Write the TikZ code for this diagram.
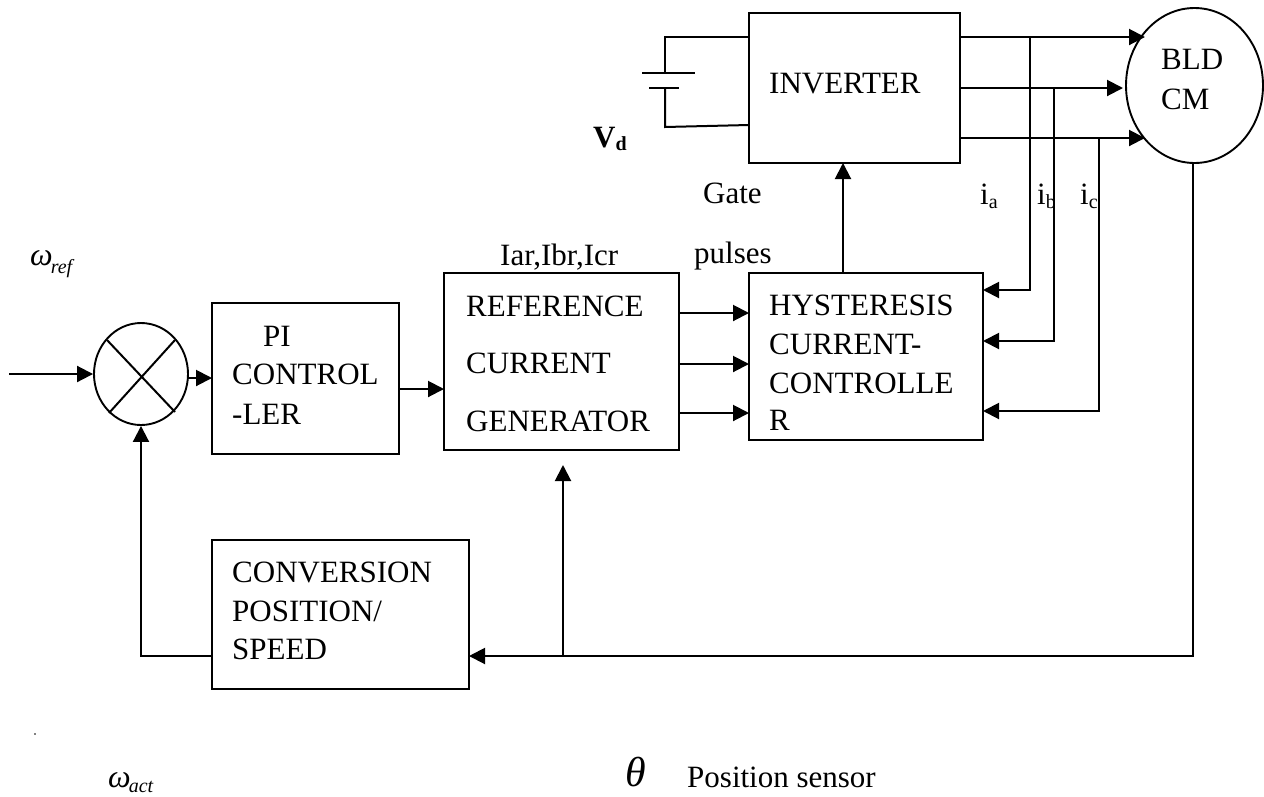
\documentclass[tikz,border=0pt]{standalone}
\usepackage{fontspec}
\usepackage{graphicx}
\setmainfont{Liberation Serif}
\usetikzlibrary{arrows.meta,shapes.geometric}
\newcommand{\lowsub}[2]{\raisebox{#1}{\fontsize{20}{20}\selectfont #2}}
\tikzset{
  blk/.style={draw,line width=2.4pt,rectangle,inner sep=0pt},
  oval/.style={draw,line width=1.9pt,ellipse,inner sep=0pt},
  wire/.style={line width=2pt},
  arr/.style={line width=2pt,-{Triangle[length=16pt,width=16pt]}},
  txt/.style={anchor=base west,inner sep=0pt,font=\fontsize{31}{34}\selectfont},
  omg/.style={anchor=base west,inner sep=0pt,font=\fontsize{32}{36}\selectfont\itshape},
}
\begin{document}
\begin{tikzpicture}[x=1pt,y=-1pt]
\useasboundingbox (0,0) rectangle (1264,796);
% blocks
\node[blk,minimum width=211pt,minimum height=150pt] (inv) at (854.5,88) {};
\node[oval,minimum width=137pt,minimum height=155pt] (mot) at (1194.5,85.5) {};
\node[oval,minimum width=94pt,minimum height=102pt] (sum) at (141,374) {};
\node[blk,minimum width=187pt,minimum height=151pt] (pi) at (305.5,378.5) {};
\node[blk,minimum width=235pt,minimum height=177pt] (ref) at (561.5,361.5) {};
\node[blk,minimum width=234pt,minimum height=167pt] (hys) at (866,356.5) {};
\node[blk,minimum width=257pt,minimum height=149pt] (conv) at (340.5,614.5) {};
% free coordinates
\coordinate (in) at (9,374);
\coordinate (ma) at (1145,37);
\coordinate (mb) at (1123,88);
\coordinate (mc) at (1145,138);
\coordinate (ta) at (1030,37);
\coordinate (tb) at (1054,88);
\coordinate (tc) at (1099,138);
\coordinate (ha) at (983,290);
\coordinate (hb) at (983,341);
\coordinate (hc) at (983,411);
\coordinate (fb1) at (1193,656);
\coordinate (fb2) at (469,656);
\coordinate (br) at (563,655);
\coordinate (brt) at (563,465);
\coordinate (c1) at (212,656);
\coordinate (c2) at (141,656);
\coordinate (bat1) at (665,37);
\coordinate (bat2) at (665,127);
\coordinate (p1) at (665,73);
\coordinate (p2) at (665,88);
\coordinate (invA) at (749,37);
\coordinate (invB) at (749,125);
% cross in summing junction
\draw[wire] (107,340) coordinate (x1) -- (175,412) coordinate (x2);
\draw[wire] (175,340) coordinate (x3) -- (109,413) coordinate (x4);
% forward path
\draw[arr] (in) -- (sum.west);
\draw[arr] (188,378) coordinate (s1) -- (212,378) coordinate (s2);
\draw[arr] (399,389) coordinate (s3) -- (444,389) coordinate (s4);
\draw[arr] (679,313) coordinate (r1) -- (749,313) coordinate (h1);
\draw[arr] (679,364) coordinate (r2) -- (749,364) coordinate (h2);
\draw[arr] (679,413) coordinate (r3) -- (749,413) coordinate (h3);
\draw[arr] (843,273) coordinate (g1) -- (843,163) coordinate (g2);
% inverter to motor
\draw[arr] (960,37) coordinate (o1) -- (ma);
\draw[arr] (960,88) coordinate (o2) -- (mb);
\draw[arr] (960,138) coordinate (o3) -- (mc);
% current feedback
\draw[arr] (ta) -- (1030,290) -- (ha);
\draw[arr] (tb) -- (1054,341) -- (hb);
\draw[arr] (tc) -- (1099,411) -- (hc);
% position feedback
\draw[arr] (mot.south -| fb1) -- (fb1) -- (fb2);
\draw[arr] (br) -- (brt);
\draw[arr] (c1) -- (c2) -- (sum.south);
% battery
\draw[wire] (invA) -- (bat1) -- (p1);
\draw[wire] (p2) -- (bat2) -- (invB);
\draw[wire] (642,73) coordinate (b1) -- (695,73) coordinate (b2);
\draw[wire] (649,88) coordinate (b3) -- (679,88) coordinate (b4);
% texts
\node[txt] (tinv) at (769,93) {INVERTER};
\node[txt] (tbld) at (1161,69) {BLD};
\node[txt] (tcm) at (1161,109) {CM};
\node[txt] (tpi) at (263,346) {PI};
\node[txt] (tcon) at (232,384) {CONTROL};
\node[txt] (tler) at (232,424) {-LER};
\node[txt] (tr1) at (466,316) {REFERENCE};
\node[txt] (tr2) at (466,373) {CURRENT};
\node[txt] (tr3) at (466,431) {GENERATOR};
\node[txt] (th1) at (769,315) {HYSTERESIS};
\node[txt] (th2) at (769,354) {CURRENT-};
\node[txt] (th3) at (769,393) {CONTROLLE};
\node[txt] (th4) at (769,430) {R};
\node[txt] (tc1) at (232,582) {CONVERSION};
\node[txt] (tc2) at (232,621) {POSITION/};
\node[txt] (tc3) at (232,659) {SPEED};
\node[txt] (tgate) at (703,203) {Gate};
\node[txt] (tpul) at (694,263) {pulses};
\node[txt] (tiar) at (500,265) {Iar,Ibr,Icr};
\node[txt] (tia) at (980,204) {i\lowsub{-4pt}{a}};
\node[txt] (tib) at (1037,204) {i\lowsub{-4pt}{b}};
\node[txt] (tic) at (1080,204) {i\lowsub{-4pt}{c}};
\node[txt] (tvd) at (593,147) {\textbf{V\lowsub{-3pt}{d}}};
\node[omg] (twr) at (30,265) {ω\kern-2pt\lowsub{-8pt}{ref}};
\node[omg] (twa) at (108,787) {ω\kern-2pt\lowsub{-5pt}{act}};
\node[txt,font=\fontsize{42}{44}\selectfont\itshape] (tth) at (625,786) {θ};
\node[txt] (tps) at (687,787) {Position sensor};
\fill (35,734) circle (0.8pt);
\end{tikzpicture}
\end{document}
